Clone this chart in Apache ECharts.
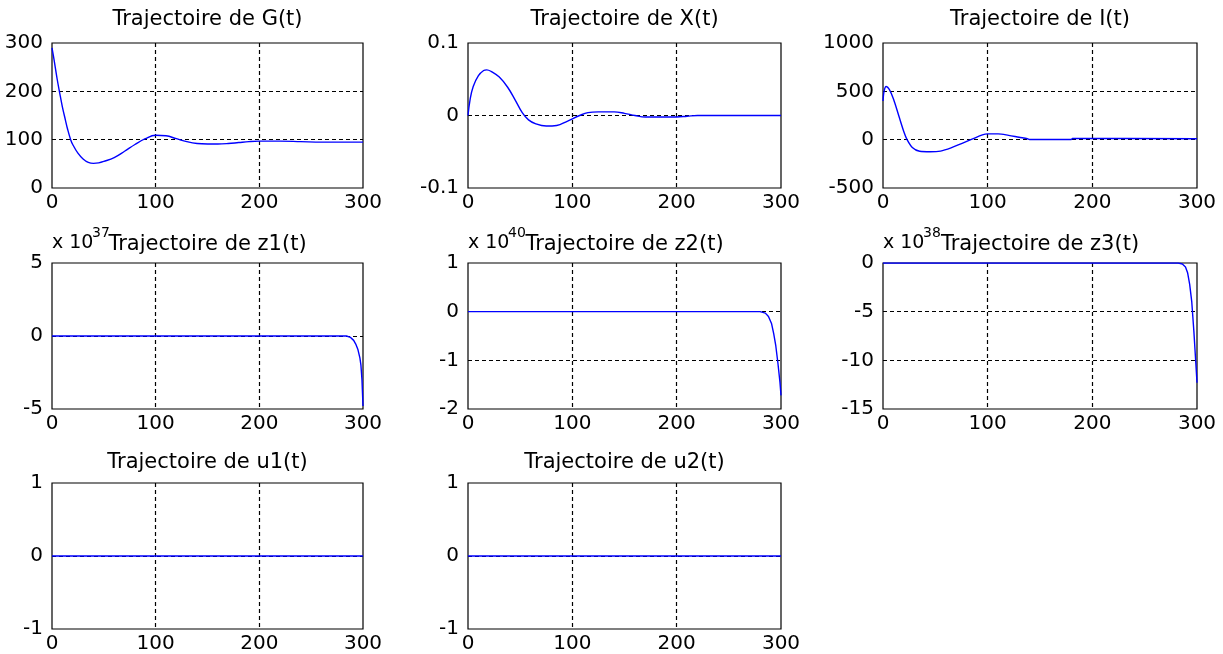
<!DOCTYPE html>
<html>
<head>
<meta charset="utf-8">
<script src="https://cdn.jsdelivr.net/npm/echarts@6/dist/echarts.min.js"></script>
<style>
  html, body { margin: 0; padding: 0; background: #fff; }
  #main { width: 1223px; height: 654px; }
</style>
</head>
<body>
<div id="main"></div>
<script>
// valeurs (t en abscisse)
var tG = [0, 2, 5, 8, 10, 13, 15, 18, 20, 25, 30, 35, 40, 45, 50, 60, 70, 80, 90, 100, 110, 120, 130, 140, 150, 160, 170, 180, 190, 200, 220, 240, 260, 280, 300];
var G  = [290, 265, 225, 190, 168, 140, 122, 100, 90, 72, 60, 53, 51, 52, 55, 63, 76, 90, 102, 109, 108, 102, 96, 92, 91, 91, 92, 94, 96, 97, 97, 96, 95, 95, 95];

var tX = [0, 2, 5, 10, 15, 18, 22, 30, 38, 45, 52, 58, 65, 75, 85, 95, 107, 115, 125, 140, 150, 160, 170, 200, 210, 220, 300];
var X  = [0, 0.022, 0.040, 0.055, 0.062, 0.063, 0.061, 0.053, 0.039, 0.022, 0.004, -0.006, -0.0115, -0.0145, -0.0138, -0.008, 0, 0.004, 0.005, 0.005, 0.003, 0, -0.002, -0.002, -0.001, 0, 0];

var tI = [0, 1, 3, 6, 10, 15, 20, 23, 28, 35, 45, 55, 65, 75, 85, 95, 100, 110, 120, 130, 138, 140, 180, 181, 300];
var I  = [400, 500, 550, 520, 420, 250, 80, 0, -80, -120, -125, -118, -85, -40, 5, 50, 60, 60, 45, 25, 10, 2, 2, 12, 10];

// z1 en unites de 1e37, z2 en 1e40, z3 en 1e38
var tZ1 = [0, 284, 288, 291, 293, 295, 297, 298, 299, 300];
var Z1  = [0, 0, -0.1, -0.3, -0.55, -0.9, -1.5, -2.0, -3.0, -4.8];

var tZ2 = [0, 280, 285, 288, 291, 293, 295, 297, 299, 300];
var Z2  = [0, 0, -0.03, -0.1, -0.25, -0.45, -0.7, -1.05, -1.45, -1.72];

var tZ3 = [0, 282, 286, 289, 291, 293, 295, 297, 299, 300];
var Z3  = [0, 0, -0.1, -0.4, -1.0, -2.2, -4.0, -7.0, -10.5, -12.3];

var tU = [0, 300];
var U1 = [0, 0];
var U2 = [0, 0];

var xTicks = [0, 100, 200, 300];

function zip(t, v) {
  return t.map(function (x, i) { return [x, v[i]]; });
}

var panels = [
  { title: 'Trajectoire de G(t)',  data: zip(tG, G),   ymin: 0,    ymax: 300,  step: 100, smooth: 0.4 },
  { title: 'Trajectoire de X(t)',  data: zip(tX, X),   ymin: -0.1, ymax: 0.1,  step: 0.1, smooth: 0.4 },
  { title: 'Trajectoire de I(t)',  data: zip(tI, I),   ymin: -500, ymax: 1000, step: 500, smooth: 0.3 },
  { title: 'Trajectoire de z1(t)', data: zip(tZ1, Z1), ymin: -5,   ymax: 5,    step: 5,   exp: '37' },
  { title: 'Trajectoire de z2(t)', data: zip(tZ2, Z2), ymin: -2,   ymax: 1,    step: 1,   exp: '40' },
  { title: 'Trajectoire de z3(t)', data: zip(tZ3, Z3), ymin: -15,  ymax: 0,    step: 5,   exp: '38' },
  { title: 'Trajectoire de u1(t)', data: zip(tU, U1),  ymin: -1,   ymax: 1,    step: 1 },
  { title: 'Trajectoire de u2(t)', data: zip(tU, U2),  ymin: -1,   ymax: 1,    step: 1 }
];

var cols = [{ left: 52, width: 311 }, { left: 468, width: 313 }, { left: 883, width: 314 }];
var rows = [{ top: 43, height: 145, titleY: 20 }, { top: 263, height: 146, titleY: 245 }, { top: 483, height: 146, titleY: 463 }];

var font = 'DejaVu Sans';
var txt = '#000';
var gridLine = { show: true, showMinLine: false, showMaxLine: false, lineStyle: { color: '#000', type: [4, 3], width: 1.2 } };

var option = { animation: false, title: [], grid: [], xAxis: [], yAxis: [], series: [], graphic: [] };

panels.forEach(function (p, k) {
  var c = cols[k % 3], r = rows[Math.floor(k / 3)];
  option.grid.push({
    left: c.left, top: r.top, width: c.width, height: r.height,
    show: true, borderColor: '#000', borderWidth: 1.2, backgroundColor: '#fff'
  });
  option.title.push({
    text: p.title, left: c.left + c.width / 2, top: r.titleY - 11, textAlign: 'center', padding: 0,
    textStyle: { fontFamily: font, fontSize: 21, fontWeight: 'normal', color: txt }
  });
  option.xAxis.push({
    type: 'value', gridIndex: k, min: xTicks[0], max: xTicks[xTicks.length - 1], interval: 100,
    axisLine: { show: false }, axisTick: { show: false },
    splitLine: gridLine,
    axisLabel: { fontFamily: font, fontSize: 20, color: txt, margin: 5 }
  });
  option.yAxis.push({
    type: 'value', gridIndex: k, min: p.ymin, max: p.ymax, interval: p.step,
    axisLine: { show: false }, axisTick: { show: false },
    splitLine: gridLine,
    axisLabel: {
      fontFamily: font, fontSize: 20, color: txt, margin: 9,
      formatter: function (v) { return String(Math.round(v * 1000) / 1000); }
    }
  });
  option.series.push({
    type: 'line', xAxisIndex: k, yAxisIndex: k, data: p.data,
    showSymbol: false, smooth: p.smooth || false,
    lineStyle: { color: '#0000ff', width: 1.4 }, z: 5
  });
  if (p.exp) {
    option.graphic.push({
      type: 'text', left: c.left, top: r.titleY - 11,
      style: { text: 'x 10', font: '19px "' + font + '"', fill: txt }
    });
    option.graphic.push({
      type: 'text', left: c.left + 40, top: r.titleY - 19,
      style: { text: p.exp, font: '14px "' + font + '"', fill: txt }
    });
  }
});

var chart = echarts.init(document.getElementById('main'));
chart.setOption(option);
</script>
</body>
</html>
